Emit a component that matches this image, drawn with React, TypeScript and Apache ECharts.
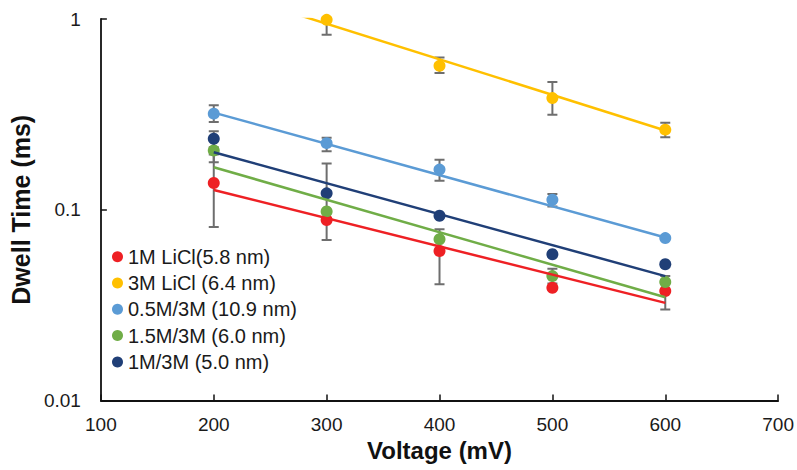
import React, { useEffect, useRef } from "react";
import * as echarts from "echarts";

// ---- data ----
const voltages = [200, 300, 400, 500, 600];
const xTicks = [100, 200, 300, 400, 500, 600, 700];
const yTicks = [0.01, 0.1, 1];

const seriesNames = [
  "1M LiCl(5.8 nm)",
  "3M LiCl (6.4 nm)",
  "0.5M/3M (10.9 nm)",
  "1.5M/3M (6.0 nm)",
  "1M/3M (5.0 nm)",
];
const seriesColors = ["#EE2024", "#FFC000", "#5B9BD5", "#70AD47", "#203F77"];

// dwell time (ms) at each voltage
const red = [0.138, 0.0883, 0.0608, 0.039, 0.0375];
const yellow = [null, 0.99, 0.568, 0.385, 0.263];
const lightBlue = [0.319, 0.2234, 0.1624, 0.1129, 0.071];
const green = [0.2044, 0.098, 0.07, 0.0449, 0.0418];
const darkBlue = [0.2356, 0.1219, 0.093, 0.0584, 0.0518];

// error bar ends (low / high)
const redLow = [0.0812, null, 0.0407, null, 0.03];
const redHigh = [0.195, null, 0.0791, null, 0.045];
const yellowLow = [null, 0.827, 0.521, 0.315, 0.24];
const yellowHigh = [null, 1.17, 0.629, 0.468, 0.286];
const lightBlueLow = [0.288, 0.2027, 0.1421, 0.1041, null];
const lightBlueHigh = [0.3527, 0.2384, 0.1826, 0.121, null];
const greenLow = [0.1774, null, null, 0.041, null];
const greenHigh = [0.2314, null, null, 0.0491, null];
const darkBlueLow = [0.2127, 0.0695, null, null, null];
const darkBlueHigh = [0.2583, 0.1746, null, null, null];

// exponential trendline ends (at 200 mV and 600 mV)
const trendX = [200, 600];
const redTrend = [0.127, 0.0325];
const yellowTrend = [1.45, 0.2605];
const lightBlueTrend = [0.323, 0.0715];
const greenTrend = [0.167, 0.0348];
const darkBlueTrend = [0.2003, 0.0449];

const values = [red, yellow, lightBlue, green, darkBlue];
const lows = [redLow, yellowLow, lightBlueLow, greenLow, darkBlueLow];
const highs = [redHigh, yellowHigh, lightBlueHigh, greenHigh, darkBlueHigh];
const trends = [redTrend, yellowTrend, lightBlueTrend, greenTrend, darkBlueTrend];

const FONT = "'Liberation Sans', Arial, Helvetica, sans-serif";

export default function App() {
  const ref = useRef<HTMLDivElement>(null);

  useEffect(() => {
    const chart = echarts.init(ref.current!, null, { renderer: "svg" });

    const series: any[] = [];
    values.forEach((vals, si) => {
      const errData: any[] = [];
      voltages.forEach((v, i) => {
        const lo = lows[si][i];
        const hi = highs[si][i];
        if (lo != null && hi != null) errData.push([v, lo, hi]);
      });
      series.push({
        name: "err" + si,
        type: "custom",
        clip: true,
        silent: true,
        z: 2,
        data: errData,
        encode: { x: 0, y: [1, 2] },
        renderItem: (params: any, api: any) => {
          const x = api.value(0);
          const pLo = api.coord([x, api.value(1)]);
          const pHi = api.coord([x, api.value(2)]);
          const w = 5;
          const st = { stroke: "#6E6E6E", lineWidth: 2 };
          return {
            type: "group",
            children: [
              { type: "line", shape: { x1: pLo[0], y1: pLo[1], x2: pHi[0], y2: pHi[1] }, style: st },
              { type: "line", shape: { x1: pLo[0] - w, y1: pLo[1], x2: pLo[0] + w, y2: pLo[1] }, style: st },
              { type: "line", shape: { x1: pHi[0] - w, y1: pHi[1], x2: pHi[0] + w, y2: pHi[1] }, style: st },
            ],
          };
        },
      });
    });
    values.forEach((vals, si) => {
      const pts: any[] = [];
      voltages.forEach((v, i) => {
        if (vals[i] != null) pts.push([v, vals[i]]);
      });
      series.push({
        name: seriesNames[si],
        type: "scatter",
        symbol: "circle",
        symbolSize: 12,
        z: 3,
        itemStyle: { color: seriesColors[si], opacity: 1 },
        data: pts,
      });
    });
    trends.forEach((tr, si) => {
      series.push({
        name: "trend" + si,
        type: "line",
        z: 4,
        clip: true,
        showSymbol: false,
        symbol: "none",
        silent: true,
        lineStyle: { color: seriesColors[si], width: 2.5 },
        data: trendX.map((x, i) => [x, tr[i]]),
      });
    });

    chart.setOption({
      animation: false,
      backgroundColor: "#ffffff",
      textStyle: { fontFamily: FONT },
      grid: { left: 98, top: 19, right: 18, bottom: 69.5, containLabel: false },
      legend: {
        data: seriesNames.map((n) => ({ name: n, icon: "circle" })),
        orient: "vertical",
        left: 107,
        top: 241.7,
        itemWidth: 11,
        itemHeight: 11,
        itemGap: 6.3,
        itemTextGap: 2,
        textStyle: { fontSize: 20, lineHeight: 20, color: "#1a1a1a", fontFamily: FONT },
      },
      xAxis: {
        type: "value",
        min: xTicks[0],
        max: xTicks[xTicks.length - 1],
        interval: 100,
        name: "Voltage (mV)",
        nameLocation: "middle",
        nameGap: 38,
        nameTextStyle: { fontSize: 24, fontWeight: "bold", color: "#111", fontFamily: FONT },
        splitLine: { show: false },
        axisLine: { lineStyle: { color: "#111", width: 1.8 } },
        axisTick: { inside: true, length: 6, lineStyle: { color: "#111", width: 1.5 } },
        axisLabel: { fontSize: 19, color: "#1a1a1a", margin: 14, fontFamily: FONT },
      },
      yAxis: {
        type: "log",
        logBase: 10,
        min: yTicks[0],
        max: yTicks[yTicks.length - 1],
        name: "Dwell Time (ms)",
        nameLocation: "middle",
        nameGap: 60,
        nameTextStyle: { fontSize: 25, fontWeight: "bold", color: "#111", fontFamily: FONT },
        splitLine: { show: false },
        minorTick: { show: false },
        axisLine: { show: true, lineStyle: { color: "#111", width: 1.8 } },
        axisTick: { show: true, inside: true, length: 6, lineStyle: { color: "#111", width: 1.5 } },
        axisLabel: {
          fontSize: 19,
          color: "#1a1a1a",
          margin: 20,
          fontFamily: FONT,
          formatter: (v: number) => String(parseFloat(Number(v).toPrecision(2))),
        },
      },
      series,
    });

    return () => chart.dispose();
  }, []);

  return (
    <div
      ref={ref}
      style={{ position: "fixed", left: 0, top: 0, width: 797, height: 470, background: "#fff" }}
    />
  );
}
